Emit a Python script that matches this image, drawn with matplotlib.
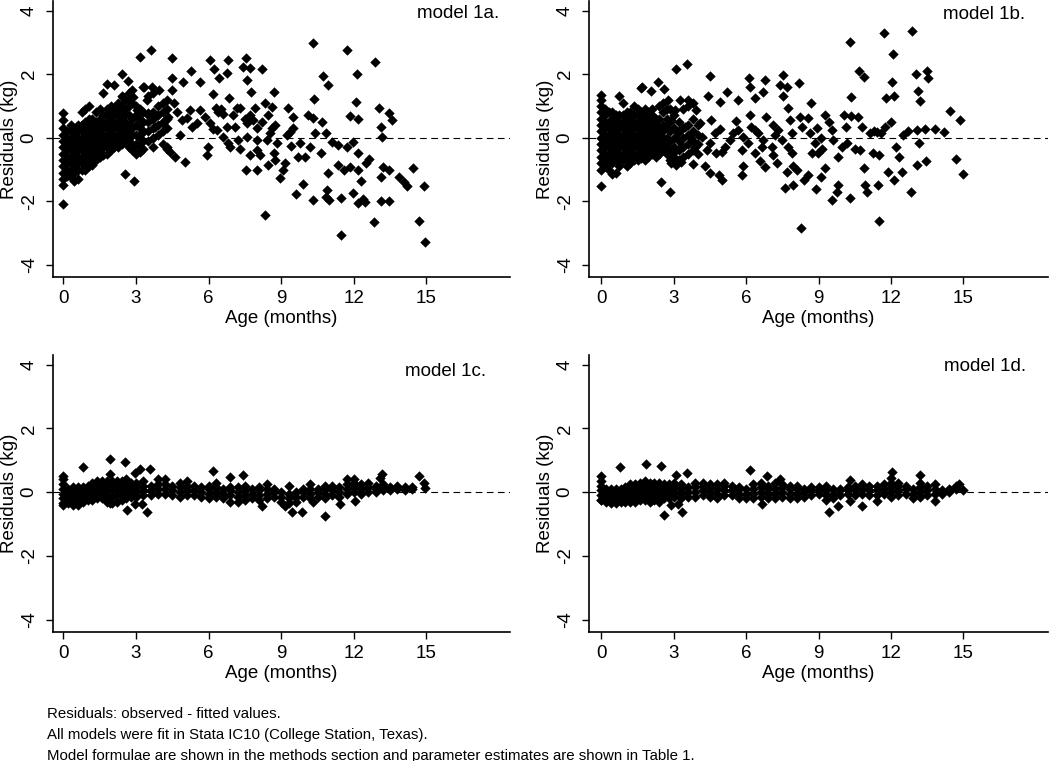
import matplotlib
matplotlib.use("Agg")
import matplotlib.pyplot as plt
import numpy as np

plt.rcParams['font.family'] = ['Liberation Sans', 'DejaVu Sans']
plt.rcParams['axes.unicode_minus'] = False

# ---- data: (age in months, residual in kg) ----
# scattered points, model 1a
pts_1a = [
    (0.0, -2.09), (0.0, -1.5), (0.0, 0.77), (2.55, -1.15), (2.93, -1.36), (3.17, 2.55),
    (3.6, 2.77), (4.5, 2.5), (4.49, 1.89), (2.44, 2.01), (2.66, 1.78), (5.28, 2.1),
    (4.96, 1.74), (6.07, 2.46), (6.21, 2.16), (6.43, 1.87), (6.82, 2.43), (6.76, 2.04),
    (7.56, 2.52), (7.42, 2.22), (7.7, 2.18), (7.57, 1.82), (8.21, 2.16), (7.77, 1.45),
    (8.71, 1.45), (6.86, 1.24), (6.2, 1.36), (10.3, 2.99), (11.72, 2.76), (12.89, 2.38),
    (10.72, 1.95), (10.95, 1.67), (12.11, 1.99), (10.36, 1.23), (12.07, 1.11), (11.82, 0.68),
    (12.15, 0.6), (13.04, 0.93), (13.47, 0.77), (13.57, 0.56), (13.11, 0.34), (13.18, 0.01),
    (13.2, -0.93), (13.11, -1.25), (13.44, -1.02), (13.1, -2.0), (13.44, -2.0), (12.82, -2.66),
    (11.47, -3.07), (14.46, -0.96), (13.85, -1.23), (14.09, -1.38), (14.21, -1.51), (14.88, -1.51),
    (14.71, -2.63), (14.94, -3.27), (8.31, -2.43), (10.33, -1.96), (9.6, -1.78), (9.88, -1.44),
    (8.93, -1.28), (7.55, -1.02), (7.99, -1.02), (10.92, -1.12), (10.9, -1.65), (10.99, -1.96),
    (10.84, -1.86), (11.46, -1.91), (11.96, -1.75), (12.15, -2.04), (12.37, -1.94), (12.45, -2.01),
    (12.3, -1.36), (12.49, -0.81), (12.63, -0.68), (12.19, -1.02), (12.15, -0.49), (11.82, -0.91),
    (11.34, -0.86), (11.61, -1.02), (10.65, -0.49), (10.84, 0.14), (11.09, -0.13), (11.36, -0.23),
    (11.7, -0.28), (11.98, -0.13), (10.19, -0.28), (10.4, 0.14), (10.12, 0.71), (10.33, 0.61),
    (10.67, 0.5), (9.78, -0.18), (9.99, -0.6), (9.71, -0.6), (9.5, 0.66), (9.26, 0.92),
    (9.37, 0.19), (9.23, 0.08), (9.16, -0.81), (9.09, -1.02), (8.82, -0.18), (8.68, -0.49),
    (8.47, -0.86), (8.75, -0.7), (8.54, 0.14), (8.4, -0.07), (8.47, 0.71), (8.6, 0.97),
    (8.33, 1.08), (8.75, 0.4), (7.99, -0.39), (7.99, -0.07), (8.13, -0.55), (7.92, 0.92),
    (7.85, 0.56), (7.57, 0.45), (7.71, -0.55), (7.57, 0.03), (7.23, -0.07), (7.3, -0.34),
    (7.16, 0.92), (7.02, 0.71), (7.09, 0.35), (6.75, 0.35), (6.82, -0.18), (6.61, 0.03),
    (6.4, 0.82), (6.34, 0.24), (6.06, 0.45), (6.2, 0.29), (5.99, -0.28), (5.92, -0.55),
    (5.85, 0.66), (5.65, 0.87), (5.65, 1.76), (5.51, 0.45), (5.3, 0.35), (5.1, 0.61),
    (5.23, 0.87), (4.89, 0.56), (5.03, -0.75), (4.61, -0.6), (4.82, 0.08), (4.68, 0.82),
    (4.55, 1.08), (4.48, 1.5), (4.34, 0.66), (4.27, -0.28), (4.41, -0.44), (4.13, 1.08),
    (4.13, 0.45), (3.93, 1.5), (3.79, 0.35), (3.72, -0.28), (3.65, 1.6), (3.44, 1.18),
    (3.51, 0.77), (3.31, 1.6), (3.24, 0.14), (3.17, -0.44), (3.03, 0.87), (2.89, 1.29),
    (2.89, -0.39), (2.82, 1.5), (2.69, 1.18), (2.55, 0.24), (2.48, 1.29), (2.27, 1.08),
    (6.5, 0.9), (6.6, 0.75), (6.3, 0.95), (7.3, 0.95), (8.0, 0.3), (8.2, 0.5),
    (7.7, 0.7), (8.6, 0.3), (9.5, 0.3), (9.4, -0.25), (6.9, -0.3), (7.5, 0.6),
]
# dense cloud near birth, model 1a: (age, [residuals])
cloud_1a = [
    (0.0, [-1.3, -1.1, -0.9, -0.7, -0.5, -0.3, -0.1, 0.1, 0.3, 0.55]),
    (0.15, [-1.2, -1.0, -0.8, -0.6, -0.4, -0.2, 0.0, 0.2]),
    (0.3, [-1.25, -1.0, -0.8, -0.6, -0.4, -0.2, 0.0, 0.2, 0.4]),
    (0.45, [-1.35, -1.1, -0.9, -0.7, -0.5, -0.3, -0.1, 0.1, 0.3]),
    (0.6, [-1.3, -1.0, -0.8, -0.6, -0.4, -0.2, 0.0, 0.2, 0.4]),
    (0.75, [-1.0, -0.8, -0.6, -0.4, -0.2, 0.0, 0.2, 0.4, 0.8]),
    (0.9, [-1.0, -0.8, -0.6, -0.4, -0.2, 0.0, 0.2, 0.5, 0.9]),
    (1.05, [-0.9, -0.7, -0.5, -0.3, -0.1, 0.1, 0.3, 0.6, 1.0]),
    (1.2, [-0.85, -0.6, -0.4, -0.2, 0.0, 0.2, 0.4, 0.6]),
    (1.35, [-0.7, -0.5, -0.3, -0.1, 0.1, 0.3, 0.5, 0.8]),
    (1.5, [-0.6, -0.4, -0.2, 0.0, 0.2, 0.4, 0.6, 0.9]),
    (1.65, [-0.55, -0.3, -0.1, 0.1, 0.3, 0.5, 0.7, 1.4]),
    (1.8, [-0.5, -0.3, -0.1, 0.1, 0.3, 0.5, 0.7, 0.9, 1.7]),
    (1.95, [-0.4, -0.2, 0.0, 0.2, 0.4, 0.6, 0.8, 1.0]),
    (2.1, [-0.3, -0.1, 0.1, 0.3, 0.5, 0.7, 0.9, 1.65]),
    (2.25, [-0.3, -0.1, 0.1, 0.3, 0.5, 0.7, 0.9]),
    (2.4, [-0.2, 0.0, 0.2, 0.4, 0.6, 0.8, 1.0, 1.3]),
    (2.55, [-0.1, 0.1, 0.3, 0.5, 0.7, 0.9, 1.2]),
    (2.7, [-0.3, 0.0, 0.2, 0.4, 0.7, 1.0, 1.4]),
    (2.85, [-0.4, -0.2, 0.1, 0.3, 0.6, 1.1]),
    (3.0, [-0.5, -0.2, 0.1, 0.4, 0.7, 1.0]),
    (3.15, [-0.3, 0.0, 0.3, 0.6, 0.9]),
    (3.3, [-0.35, -0.1, 0.2, 0.5, 0.8, 1.6]),
    (3.5, [-0.1, 0.2, 0.5, 0.7, 1.3]),
    (3.7, [0.0, 0.3, 0.6, 0.8, 1.4]),
    (3.9, [0.1, 0.4, 0.7, 1.0]),
    (4.1, [-0.2, 0.2, 0.5, 0.8]),
    (4.3, [-0.35, 0.3, 0.6, 0.9, 1.2]),
]

pts_1b = [
    (0.0, -1.51), (0.0, 1.34), (2.49, -1.38), (2.86, -1.7), (3.11, 2.16), (3.55, 2.31),
    (4.5, 1.95), (2.35, 1.76), (2.58, 1.52), (1.69, 1.58), (2.05, 1.48), (5.21, 1.45),
    (4.42, 1.32), (4.91, 1.13), (5.67, 1.18), (6.11, 1.89), (6.15, 1.58), (6.36, 1.24),
    (6.78, 1.83), (6.71, 1.45), (6.8, 0.66), (6.17, 0.73), (5.56, 0.53), (7.54, 1.97),
    (7.4, 1.66), (7.68, 1.6), (7.51, 1.32), (7.75, 0.94), (8.19, 1.71), (8.68, 1.08),
    (10.3, 3.02), (11.69, 3.28), (12.86, 3.35), (12.07, 2.63), (10.69, 2.11), (10.9, 1.92),
    (12.03, 1.74), (13.04, 2.0), (13.49, 2.1), (13.55, 1.87), (13.1, 1.47), (13.21, 1.15),
    (10.35, 1.29), (11.78, 1.24), (12.13, 1.32), (14.45, 0.85), (14.87, 0.56), (14.7, -0.68),
    (14.98, -1.14), (13.83, 0.29), (14.18, 0.17), (13.42, 0.29), (13.07, 0.24), (13.14, -0.18),
    (13.44, -0.72), (13.09, -0.86), (12.81, -1.7), (12.45, -1.07), (12.31, -0.6), (12.2, -0.28),
    (11.89, -1.07), (12.14, -1.33), (11.48, -2.62), (11.45, -1.49), (11.52, -0.55), (11.27, -0.49),
    (11.76, 0.35), (11.98, 0.5), (11.42, 0.19), (11.12, 0.14), (10.8, 0.35), (10.86, -0.96),
    (10.93, -1.49), (11.0, -1.7), (10.3, -1.91), (9.54, -1.96), (9.82, -1.49), (9.75, -1.7),
    (8.89, -1.61), (9.09, -1.23), (9.27, -0.96), (8.55, -1.17), (8.41, -1.33), (8.27, -2.85),
    (7.95, -1.49), (7.61, -1.57), (7.68, -1.07), (7.95, -0.89), (8.09, -1.02), (7.26, -0.81),
    (6.78, -0.91), (6.57, -0.73), (5.88, -0.88), (5.81, -1.17), (4.98, -1.33), (4.87, -1.17),
    (4.5, -1.12), (4.29, -0.89), (3.8, -0.84), (3.32, -0.75), (3.11, -0.86), (2.9, -0.81),
    (9.82, -0.6), (9.96, -0.28), (10.17, -0.18), (10.07, 0.71), (10.35, 0.68), (10.13, 0.35),
    (10.62, 0.66), (9.43, 0.5), (9.27, 0.71), (9.54, 0.24), (9.61, -0.07), (8.99, -0.49),
    (8.85, -0.18), (9.13, -0.34), (8.71, -0.49), (8.64, 0.14), (8.3, 0.35), (8.58, 0.61),
    (8.23, 0.66), (7.81, 0.56), (7.88, 0.14), (7.75, -0.28), (7.88, -0.49), (7.47, -0.07),
    (7.33, 0.24), (7.12, 0.4), (7.05, -0.28), (7.12, -0.55), (6.71, -0.07), (6.64, -0.28),
    (6.36, 0.24), (6.22, 0.35), (6.36, -0.49), (6.09, -0.18), (5.88, 0.03), (5.81, -0.39),
    (5.67, 0.24), (5.46, 0.14), (5.32, -0.07), (5.12, -0.28), (4.98, -0.44), (4.77, -0.49),
    (4.91, 0.29), (4.7, 0.14), (4.56, 0.56), (4.5, -0.18), (4.36, -0.39), (4.15, 0.03),
    (4.08, 0.45), (3.94, 0.87), (3.8, 1.08), (3.6, 1.18), (3.87, -0.28), (3.67, 0.03),
    (3.46, 0.35), (3.32, -0.28), (3.18, 0.14), (3.04, 0.87), (3.25, 1.18), (2.9, 0.56),
    (2.77, 1.18), (2.97, -0.49), (10.5, -0.35), (10.7, -0.4), (11.3, 0.2), (11.6, 0.15),
    (12.5, 0.1), (12.7, 0.2), (9.1, 0.0), (8.95, 0.3), (7.2, 0.1), (6.5, 0.15),
]
cloud_1b = [
    (0.0, [-1.0, -0.8, -0.6, -0.4, -0.2, 0.0, 0.2, 0.4, 0.6, 0.8, 1.0, 1.2]),
    (0.15, [-0.9, -0.7, -0.5, -0.3, -0.1, 0.1, 0.3, 0.5, 0.7, 0.9]),
    (0.3, [-1.0, -0.7, -0.5, -0.3, -0.1, 0.1, 0.3, 0.5, 0.8]),
    (0.45, [-1.15, -0.8, -0.6, -0.4, -0.2, 0.0, 0.2, 0.4, 0.6, 0.8]),
    (0.6, [-1.1, -0.7, -0.5, -0.3, -0.1, 0.1, 0.3, 0.5, 0.7]),
    (0.75, [-0.9, -0.7, -0.5, -0.3, -0.1, 0.1, 0.3, 0.5, 0.7, 1.3]),
    (0.9, [-0.7, -0.5, -0.3, -0.1, 0.1, 0.3, 0.5, 0.7, 1.1]),
    (1.05, [-0.9, -0.6, -0.4, -0.2, 0.0, 0.2, 0.4, 0.6, 0.8]),
    (1.2, [-0.8, -0.6, -0.4, -0.2, 0.0, 0.2, 0.4, 0.6, 0.8]),
    (1.35, [-0.7, -0.5, -0.3, -0.1, 0.1, 0.3, 0.5, 0.7, 1.0]),
    (1.5, [-0.7, -0.5, -0.3, -0.1, 0.1, 0.3, 0.5, 0.7, 0.9]),
    (1.65, [-0.65, -0.4, -0.2, 0.0, 0.2, 0.4, 0.6, 0.8, 1.55]),
    (1.8, [-0.7, -0.5, -0.3, -0.1, 0.1, 0.3, 0.5, 0.7, 0.9]),
    (1.95, [-0.6, -0.4, -0.2, 0.0, 0.2, 0.4, 0.6, 0.8]),
    (2.1, [-0.5, -0.3, -0.1, 0.1, 0.3, 0.5, 0.7, 0.9]),
    (2.25, [-0.6, -0.4, -0.2, 0.0, 0.2, 0.4, 0.6]),
    (2.4, [-0.5, -0.3, -0.1, 0.1, 0.3, 0.6, 1.0]),
    (2.55, [-0.4, -0.2, 0.0, 0.2, 0.4, 0.8, 1.1]),
    (2.7, [-0.5, -0.3, 0.0, 0.3, 0.6, 0.9]),
    (2.85, [-0.7, -0.4, -0.1, 0.2, 0.5, 0.9]),
    (3.0, [-0.6, -0.3, 0.0, 0.3, 0.7]),
    (3.2, [-0.7, -0.4, -0.1, 0.2, 0.5]),
    (3.4, [-0.6, -0.3, 0.0, 0.3, 0.9]),
    (3.6, [-0.5, -0.2, 0.1, 0.4, 1.0]),
    (3.8, [-0.4, -0.1, 0.2, 0.6]),
    (4.0, [-0.5, -0.2, 0.1, 0.4]),
]

pts_1c = [
    (0.83, 0.78), (1.93, 1.04), (2.55, 0.94), (2.62, -0.57), (3.44, -0.63), (2.96, -0.38),
    (3.24, -0.38), (3.17, 0.72), (3.58, 0.72), (2.96, 0.59), (6.2, 0.67), (6.89, 0.46),
    (7.44, 0.54), (13.15, 0.57), (13.09, 0.44), (14.71, 0.49), (14.88, 0.28), (14.94, 0.12),
    (10.81, -0.74), (9.44, -0.63), (9.85, -0.63), (11.43, -0.38), (12.05, -0.27), (10.33, -0.32),
    (9.16, -0.45), (8.2, -0.45), (1.93, 0.57), (1.93, -0.34), (0.0, 0.51), (0.0, -0.42),
]
cloud_1c = [
    (0.0, [-0.35, -0.2, -0.05, 0.1, 0.25, 0.4]), (0.2, [-0.35, -0.2, -0.05, 0.1]),
    (0.4, [-0.4, -0.25, -0.1, 0.05, 0.15]), (0.6, [-0.4, -0.25, -0.1, 0.05, 0.15]),
    (0.8, [-0.3, -0.15, 0.0, 0.15]), (1.0, [-0.25, -0.1, 0.05, 0.2]),
    (1.2, [-0.25, -0.1, 0.05, 0.2, 0.3]), (1.4, [-0.2, -0.05, 0.1, 0.25, 0.35]),
    (1.6, [-0.2, -0.05, 0.1, 0.25, 0.35]), (1.8, [-0.3, -0.1, 0.05, 0.2, 0.35]),
    (2.0, [-0.35, -0.15, 0.05, 0.2, 0.35]), (2.2, [-0.3, -0.1, 0.05, 0.2, 0.35]),
    (2.4, [-0.25, -0.1, 0.05, 0.2, 0.35]), (2.6, [-0.2, -0.05, 0.1, 0.25, 0.4]),
    (2.8, [-0.15, 0.0, 0.15, 0.3]), (3.0, [-0.15, 0.0, 0.15, 0.3]),
    (3.3, [-0.1, 0.05, 0.2, 0.35]), (3.6, [-0.1, 0.05, 0.2]),
    (3.9, [-0.05, 0.1, 0.25, 0.4]), (4.2, [-0.05, 0.1, 0.25, 0.4]),
    (4.5, [-0.1, 0.05, 0.2]), (4.8, [-0.15, 0.0, 0.15, 0.3]),
    (5.1, [-0.1, 0.05, 0.2, 0.35]), (5.4, [-0.1, 0.05, 0.2]),
    (5.7, [-0.15, 0.0, 0.15]), (6.0, [-0.2, -0.05, 0.1, 0.2]),
    (6.3, [-0.15, 0.0, 0.15, 0.3]), (6.6, [-0.2, -0.05, 0.1]),
    (6.9, [-0.3, -0.1, 0.05, 0.15]), (7.2, [-0.3, -0.15, 0.0, 0.15]),
    (7.5, [-0.25, -0.1, 0.05, 0.2]), (7.8, [-0.2, -0.05, 0.1]),
    (8.1, [-0.25, -0.1, 0.05, 0.15]), (8.4, [-0.2, -0.05, 0.1, 0.25]),
    (8.7, [-0.15, 0.0, 0.1]), (9.0, [-0.3, -0.15, 0.0]),
    (9.3, [-0.35, -0.2, -0.05, 0.2]), (9.6, [-0.3, -0.15, 0.0]),
    (9.9, [-0.15, 0.0, 0.1]), (10.2, [-0.2, -0.05, 0.1, 0.25]),
    (10.5, [-0.15, 0.0, 0.1]), (10.8, [-0.2, -0.05, 0.1, 0.2]),
    (11.1, [-0.1, 0.05, 0.2]), (11.4, [-0.15, 0.0, 0.15]),
    (11.7, [-0.05, 0.1, 0.25, 0.4]), (12.0, [0.0, 0.15, 0.3, 0.4]),
    (12.3, [-0.05, 0.1, 0.25]), (12.6, [0.0, 0.15, 0.3]),
    (12.9, [0.0, 0.1, 0.2]), (13.2, [0.05, 0.15, 0.25]),
    (13.5, [0.05, 0.15]), (13.8, [0.1, 0.2]),
    (14.1, [0.05, 0.15]), (14.4, [0.1, 0.15]),
]

pts_1d = [
    (0.76, 0.78), (1.87, 0.88), (2.46, 0.82), (2.6, -0.71), (3.36, -0.63), (2.9, -0.42),
    (3.18, -0.38), (3.55, 0.61), (3.11, 0.52), (6.17, 0.7), (6.85, 0.49), (6.67, -0.36),
    (7.4, 0.41), (9.41, -0.63), (9.82, -0.45), (10.3, -0.29), (10.79, -0.45), (11.41, -0.29),
    (10.3, 0.39), (12.03, 0.63), (13.21, 0.52), (13.83, -0.29), (14.8, 0.25), (15.0, 0.07),
    (14.1, -0.03), (14.45, 0.07), (0.0, 0.49), (0.0, -0.24),
]
cloud_1d = [
    (0.0, [-0.25, -0.1, 0.05, 0.2, 0.35]), (0.2, [-0.3, -0.15, 0.0, 0.1]),
    (0.4, [-0.35, -0.2, -0.05, 0.1]), (0.6, [-0.35, -0.2, -0.05, 0.1]),
    (0.8, [-0.3, -0.15, 0.0, 0.1]), (1.0, [-0.3, -0.15, 0.0, 0.15]),
    (1.2, [-0.3, -0.15, 0.0, 0.15, 0.25]), (1.4, [-0.3, -0.15, 0.0, 0.15, 0.25]),
    (1.6, [-0.25, -0.1, 0.05, 0.2, 0.3]), (1.8, [-0.25, -0.1, 0.05, 0.2, 0.35]),
    (2.0, [-0.3, -0.15, 0.0, 0.15, 0.3]), (2.2, [-0.25, -0.1, 0.05, 0.2, 0.3]),
    (2.4, [-0.3, -0.15, 0.0, 0.15, 0.3]), (2.6, [-0.2, -0.05, 0.1, 0.25]),
    (2.8, [-0.2, -0.05, 0.1, 0.25]), (3.0, [-0.15, 0.0, 0.15, 0.3]),
    (3.3, [-0.2, -0.05, 0.1, 0.25]), (3.6, [-0.15, 0.0, 0.15]),
    (3.9, [-0.15, 0.0, 0.15, 0.3]), (4.2, [-0.1, 0.05, 0.2, 0.3]),
    (4.5, [-0.15, 0.0, 0.15, 0.25]), (4.8, [-0.2, -0.05, 0.1, 0.25]),
    (5.1, [-0.1, 0.05, 0.2, 0.3]), (5.4, [-0.1, 0.05, 0.2]),
    (5.7, [-0.2, -0.05, 0.1, 0.15]), (6.0, [-0.2, -0.05, 0.1]),
    (6.3, [-0.2, -0.05, 0.1, 0.25]), (6.6, [-0.15, 0.0, 0.15, 0.3]),
    (6.9, [-0.2, -0.05, 0.1, 0.2]), (7.2, [-0.2, -0.05, 0.1, 0.3]),
    (7.5, [-0.15, 0.0, 0.15, 0.25]), (7.8, [-0.2, -0.05, 0.1, 0.2]),
    (8.1, [-0.2, -0.05, 0.1, 0.2]), (8.4, [-0.15, 0.0, 0.1]),
    (8.7, [-0.1, 0.05, 0.15]), (9.0, [-0.05, 0.05, 0.15]),
    (9.3, [-0.25, -0.1, 0.05, 0.2]), (9.6, [-0.2, -0.05, 0.1]),
    (9.9, [-0.1, 0.05, 0.1]), (10.2, [-0.05, 0.05, 0.15]),
    (10.5, [-0.1, 0.05, 0.2]), (10.8, [-0.05, 0.1, 0.25]),
    (11.1, [-0.1, 0.05, 0.2]), (11.4, [-0.1, 0.05, 0.2]),
    (11.7, [-0.05, 0.1, 0.25]), (12.0, [-0.15, 0.0, 0.15, 0.3, 0.45]),
    (12.3, [-0.1, 0.05, 0.2, 0.3]), (12.6, [-0.05, 0.1, 0.2]),
    (12.9, [-0.2, -0.05, 0.1]), (13.2, [-0.15, 0.0, 0.15, 0.3]),
    (13.5, [-0.1, 0.05, 0.2]), (13.8, [-0.05, 0.1, 0.25]),
    (14.1, [-0.05, 0.05]), (14.4, [0.0, 0.1]), (14.7, [0.1, 0.2]),
]

titles = ["model 1a.", "model 1b.", "model 1c.", "model 1d."]
xticks = [0, 3, 6, 9, 12, 15]
yticks = [-4, -2, 0, 2, 4]
notes = [
    "Residuals: observed - fitted values.",
    "All models were fit in Stata IC10 (College Station, Texas).",
    "Model formulae are shown in the methods section and parameter estimates are shown in Table 1.",
]


def combine(pts, cloud):
    xs = [p[0] for p in pts]
    ys = [p[1] for p in pts]
    for x, col in cloud:
        xs += [x] * len(col)
        ys += col
    return np.array(xs), np.array(ys)


W, H = 1050, 761
fig = plt.figure(figsize=(W / 100, H / 100), dpi=100)

# axes boxes in pixels: left, top, right, bottom, xmin, xmax, title x, title y
boxes = [
    (53, 1, 510, 277, -0.43, 18.45, 18.0, 3.92),
    (589, 1, 1048, 277, -0.51, 18.5, 17.55, 3.88),
    (53, 355, 510, 632, -0.43, 18.45, 17.45, 3.77),
    (589, 355, 1048, 632, -0.51, 18.5, 17.6, 3.93),
]
data = [combine(pts_1a, cloud_1a), combine(pts_1b, cloud_1b),
        combine(pts_1c, cloud_1c), combine(pts_1d, cloud_1d)]
ylims = [(-4.38, 4.3), (-4.38, 4.3), (-4.39, 4.3), (-4.39, 4.3)]

for (l, t, r, b, x0, x1, tx, ty), (xs, ys), title, yl in zip(boxes, data, titles, ylims):
    ax = fig.add_axes([l / W, 1 - b / H, (r - l) / W, (b - t) / H])
    ax.axhline(0, color='black', lw=0.8, linestyle=(0, (6, 4)), zorder=1)
    ax.scatter(xs, ys, marker='D', s=28, color='black', linewidths=0, zorder=2)
    ax.set_xlim(x0, x1)
    ax.set_ylim(*yl)
    ax.set_xticks(xticks)
    ax.set_yticks(yticks)
    ax.spines[['top', 'right']].set_visible(False)
    for s in ['left', 'bottom']:
        ax.spines[s].set_linewidth(1.2)
    ax.tick_params(axis='both', direction='out', length=5, width=1.0, labelsize=13.5)
    ax.tick_params(axis='x', pad=4)
    ax.tick_params(axis='y', pad=6, labelrotation=90)
    for lab in ax.get_yticklabels():
        lab.set_va('center')
    ax.set_xlabel("Age (months)", fontsize=13.5)
    ax.xaxis.set_label_coords(0.5, -0.12)
    ax.set_ylabel("Residuals (kg)", fontsize=13.5)
    ax.yaxis.set_label_coords(-35 / (r - l), 0.5)
    ax.text(tx, ty, title, ha='right', va='center', fontsize=13.5)

for i, line in enumerate(notes):
    fig.text(47 / W, 1 - (714 + 21 * i) / H, line, ha='left', va='center', fontsize=10.8)

fig.savefig("out.png", dpi=100)
